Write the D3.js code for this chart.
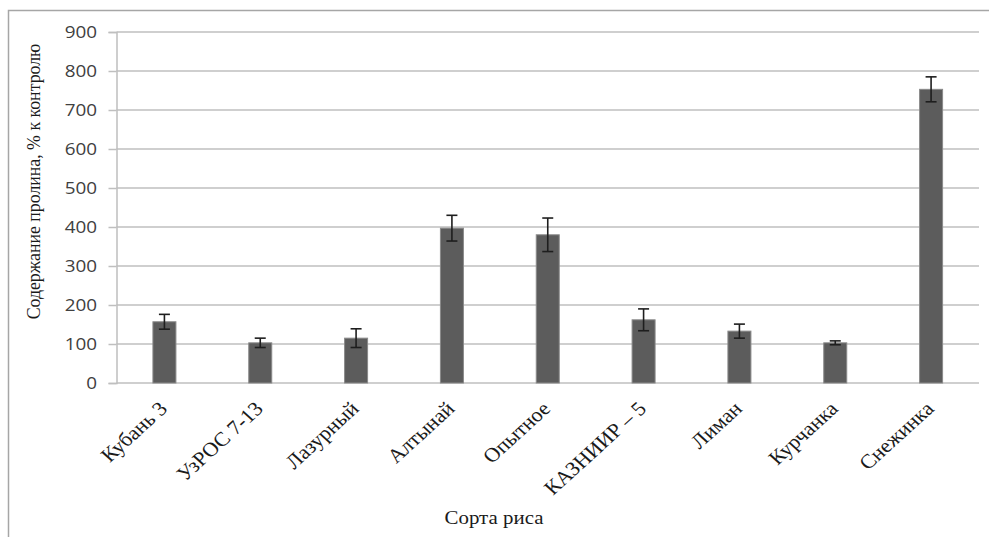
<!DOCTYPE html>
<html>
<head>
<meta charset="utf-8">
<script src="https://cdn.jsdelivr.net/npm/d3@7/dist/d3.min.js"></script>
<style>
  html, body { margin: 0; padding: 0; background: #fff; }
  svg { display: block; }
</style>
</head>
<body>
<svg id="chart" width="989" height="537"></svg>
<script>
// Rice varieties and proline content (% of control) with error margins
const categories = ["Кубань 3", "УзРОС 7-13", "Лазурный", "Алтынай", "Опытное", "КАЗНИИР – 5", "Лиман", "Курчанка", "Снежинка"];
const values = [157, 103, 115, 397, 380, 162, 133, 103, 753];
const errors = [19, 12, 24, 33, 43, 28, 18, 5, 32];
const yTicks = [0, 100, 200, 300, 400, 500, 600, 700, 800, 900];

const svg = d3.select("#chart");
const margin = { left: 116.5, right: 10, top: 32, bottom: 154 };
const W = 989, H = 537;
const serif = "'Liberation Serif', 'Times New Roman', serif";
const stretch = 1.1; // glyphs are set slightly wide

// outer frame
svg.append("rect")
  .attr("x", 8.5).attr("y", 10.5)
  .attr("width", 1000).attr("height", 600)
  .attr("fill", "none").attr("stroke", "#a6a6a6").attr("stroke-width", 1.5);

const x = d3.scaleBand()
  .domain(categories)
  .range([margin.left, W - margin.right])
  .paddingInner(0.76).paddingOuter(0.38);

const y = d3.scaleLinear()
  .domain([0, 900])
  .range([H - margin.bottom, margin.top]);

// horizontal gridlines
svg.append("g")
  .selectAll("line")
  .data(yTicks.filter(t => t > 0))
  .join("line")
  .attr("x1", margin.left).attr("x2", W - margin.right)
  .attr("y1", d => y(d)).attr("y2", d => y(d))
  .attr("stroke", "#bfbfbf").attr("stroke-width", 1.5);

// y axis
const yAxis = svg.append("g")
  .attr("transform", `translate(${margin.left},0)`)
  .call(d3.axisLeft(y).tickValues(yTicks).tickSize(8));
yAxis.select(".domain").attr("stroke", "#bfbfbf").attr("stroke-width", 1.5);
yAxis.selectAll(".tick line").attr("stroke", "#bfbfbf").attr("stroke-width", 1.5);
yAxis.selectAll(".tick text")
  .attr("x", -16.5)
  .attr("transform", "scale(1.18,1)")
  .attr("font-family", "'Open Sans', sans-serif")
  .attr("font-size", 16)
  .attr("fill", "#404040");

// x axis baseline
svg.append("line")
  .attr("x1", margin.left).attr("x2", W - margin.right)
  .attr("y1", y(0)).attr("y2", y(0))
  .attr("stroke", "#bfbfbf").attr("stroke-width", 1.5);

// bars
svg.append("g")
  .selectAll("rect")
  .data(values)
  .join("rect")
  .attr("x", (d, i) => x(categories[i]))
  .attr("y", d => y(d))
  .attr("width", x.bandwidth())
  .attr("height", d => y(0) - y(d))
  .attr("fill", "#5c5c5c")
  .attr("stroke", "#8a8a8a")
  .attr("stroke-width", 1);

// error bars
const eb = svg.append("g").attr("stroke", "#1e1e1e").attr("stroke-width", 1.6);
values.forEach((v, i) => {
  const cx = x(categories[i]) + x.bandwidth() / 2;
  const top = y(v + errors[i]), bot = y(v - errors[i]);
  eb.append("line").attr("x1", cx).attr("x2", cx).attr("y1", top).attr("y2", bot);
  eb.append("line").attr("x1", cx - 5.5).attr("x2", cx + 5.5).attr("y1", top).attr("y2", top);
  eb.append("line").attr("x1", cx - 5.5).attr("x2", cx + 5.5).attr("y1", bot).attr("y2", bot);
});

// category labels, rotated
svg.append("g")
  .selectAll("text")
  .data(categories)
  .join("text")
  .attr("transform", d => `translate(${x(d) + x.bandwidth() / 2 + 4},${y(0) + 27}) scale(${stretch},1) rotate(-45)`)
  .attr("text-anchor", "end")
  .attr("font-family", serif)
  .attr("font-size", 20)
  .attr("fill", "#1a1a1a")
  .text(d => d);

// axis titles
svg.append("text")
  .attr("transform", `translate(40,181.5) scale(${stretch},1) rotate(-90)`)
  .attr("text-anchor", "middle")
  .attr("font-family", serif)
  .attr("font-size", 17.8)
  .attr("fill", "#1a1a1a")
  .text("Содержание пролина, % к контролю");

svg.append("text")
  .attr("transform", `translate(494,524) scale(${stretch},1)`)
  .attr("text-anchor", "middle")
  .attr("font-family", serif)
  .attr("font-size", 19)
  .attr("fill", "#1a1a1a")
  .text("Сорта риса");
</script>
</body>
</html>
